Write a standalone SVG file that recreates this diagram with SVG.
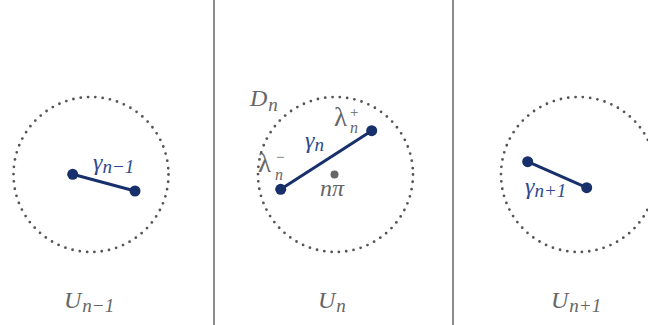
<svg xmlns="http://www.w3.org/2000/svg" width="648" height="325" viewBox="0 0 648 325">
<style>
.sep{stroke:#666;stroke-width:1.5}
.disk{fill:none;stroke:#555;stroke-width:2.8;stroke-linecap:round;stroke-dasharray:0 7.38}
.seg{stroke:#17306b;stroke-width:3}
.end{fill:#17306b}
.g{font-family:"Liberation Serif","DejaVu Serif",serif;font-size:24px;fill:#666}
.b{font-family:"Liberation Serif","DejaVu Serif",serif;font-size:24px;fill:#2b4a8e}
.i{font-style:italic}
.s{font-size:19px}
.l{font-size:27px}
.t{font-size:16px}
</style>
<rect width="648" height="325" fill="#fff"/>
<g id="separators">
<line class="sep" x1="214" y1="0" x2="214" y2="325"/>
<line class="sep" x1="453" y1="0" x2="453" y2="325"/>
</g>
<g id="U_prev">
<circle class="disk" cx="91" cy="174.5" r="77.5"/>
<text class="g i" x="64" y="308">U<tspan class="s" dy="4" dx="1">n−1</tspan></text>
</g>
<g id="U_n">
<circle class="disk" cx="335.5" cy="174.5" r="77.5"/>
<circle cx="334.5" cy="174.5" r="4" fill="#666"/>
<text class="g i" x="250" y="106">D<tspan class="s" dy="5" dx="1">n</tspan></text>
<text class="g i" x="320" y="196">nπ</text>
<text class="g i" x="318" y="308">U<tspan class="s" dy="4" dx="1">n</tspan></text>
</g>
<g id="U_next">
<circle class="disk" cx="578.5" cy="174.5" r="77.5"/>
<text class="g i" x="551" y="308">U<tspan class="s" dy="4" dx="1">n+1</tspan></text>
</g>
<g id="connectors">
<line class="seg" x1="72.7" y1="174.3" x2="135" y2="191"/>
<line class="seg" x1="280.7" y1="189.3" x2="371.7" y2="130.7"/>
<line class="seg" x1="527.7" y1="161.7" x2="586.7" y2="187.7"/>
</g>
<g id="gamma_prev">
<circle class="end" cx="72.7" cy="174.3" r="5.5"/>
<circle class="end" cx="135" cy="191" r="5.5"/>
<text class="b i" x="93" y="170">γ<tspan class="s" dy="3">n−1</tspan></text>
</g>
<g id="gamma_n">
<circle class="end" cx="280.7" cy="189.3" r="5.5"/>
<circle class="end" cx="371.7" cy="130.7" r="5.5"/>
<text class="b i" x="305" y="148">γ<tspan class="s" dy="3">n</tspan></text>
<text class="g l" x="334" y="126">λ</text>
<text class="g t i" x="350" y="133">n</text>
<text class="g" x="350" y="117" style="font-size:15px">+</text>
<text class="g l" x="258" y="172">λ</text>
<text class="g t i" x="275" y="180">n</text>
<text class="g" x="276" y="162" style="font-size:15px">−</text>
</g>
<g id="gamma_next">
<circle class="end" cx="527.7" cy="161.7" r="5.5"/>
<circle class="end" cx="586.7" cy="187.7" r="5.5"/>
<text class="b i" x="525" y="194">γ<tspan class="s" dy="3">n+1</tspan></text>
</g>
</svg>
